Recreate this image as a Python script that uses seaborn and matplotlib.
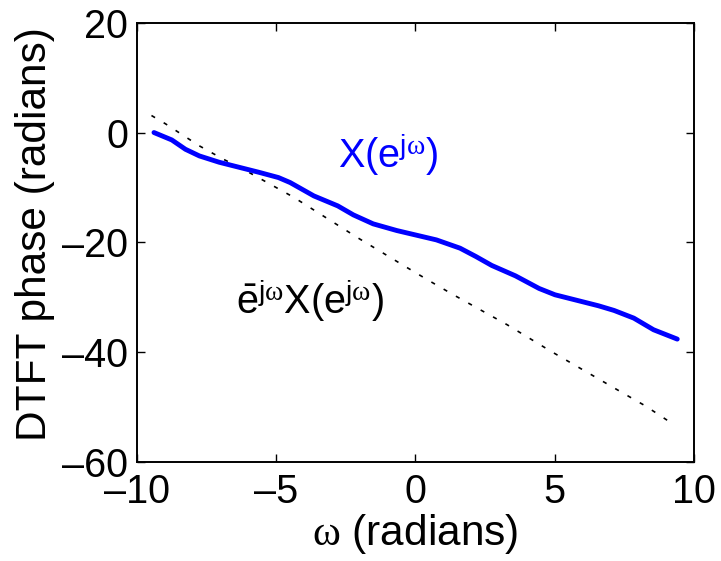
import numpy as np
import pandas as pd
import seaborn as sns
import matplotlib
matplotlib.use("Agg")
import matplotlib.pyplot as plt

# phase of X(e^jw)
w_x = [-9.39, -8.75, -8.26, -7.76, -7.05, -6.34, -5.63, -4.92, -4.50, -3.65,
       -2.79, -2.23, -1.52, -0.67, 0.04, 0.75, 1.60, 2.17, 2.74, 3.59,
       4.44, 5.01, 5.72, 6.57, 7.13, 7.84, 8.55, 9.40]
phase_x = [0.0, -1.35, -3.05, -4.26, -5.41, -6.32, -7.23, -8.20, -9.11, -11.54,
           -13.36, -15.0, -16.63, -17.85, -18.70, -19.55, -21.06, -22.58, -24.21, -26.1,
           -28.4, -29.55, -30.46, -31.55, -32.40, -33.8, -35.92, -37.62]

# phase of e^-jw X(e^jw)
w_shift = [-9.48, -8.98, -7.77, -6.92, -6.07, -5.22, -4.37, -3.59, -2.81, -2.03,
           -1.18, -0.40, 0.46, 1.31, 2.44, 3.29, 4.07, 4.85, 5.70, 6.55,
           7.40, 8.26, 9.04]
phase_shift = [3.1, 1.6, -2.4, -4.8, -7.0, -9.4, -11.8, -14.3, -16.8, -19.3,
               -21.9, -24.3, -26.9, -29.4, -32.6, -35.0, -37.4, -39.8, -42.3, -44.8,
               -47.3, -49.8, -52.4]

xticks = [-10, -5, 0, 5, 10]
yticks = [-60, -40, -20, 0, 20]

sns.set_theme(style="ticks")
plt.rcParams["font.family"] = ["Liberation Sans", "DejaVu Sans"]
plt.rcParams["mathtext.fontset"] = "custom"
plt.rcParams["mathtext.rm"] = "Liberation Sans"
plt.rcParams["mathtext.it"] = "Liberation Serif"
plt.rcParams["mathtext.sf"] = "Liberation Sans"
for k in ["text.color", "axes.labelcolor", "xtick.color", "ytick.color", "axes.edgecolor"]:
    plt.rcParams[k] = "black"

df_x = pd.DataFrame({"w": w_x, "phase": phase_x})
df_s = pd.DataFrame({"w": w_shift, "phase": phase_shift})

fig = plt.figure(figsize=(7.21, 5.61), dpi=100)
ax = fig.add_axes([0.190, 0.1765, 0.7725, 0.783])

sns.lineplot(data=df_s, x="w", y="phase", ax=ax, color="black",
             linewidth=1.2, linestyle=(0, (2.5, 6)), sort=False)
sns.lineplot(data=df_x, x="w", y="phase", ax=ax, color=(0, 0, 1),
             linewidth=3.5, sort=False)

ax.set_xlim(-10, 10)
ax.set_ylim(-60, 20)
ax.set_xticks(xticks)
ax.set_yticks(yticks)
ax.set_xticklabels(["\u2013" + str(-t) if t < 0 else str(t) for t in xticks])
ax.set_yticklabels(["\u2013" + str(-t) if t < 0 else str(t) for t in yticks])
ax.tick_params(direction="in", length=6, width=1, labelsize=28.5,
               top=True, right=True)
ax.tick_params(axis="x", pad=8)
ax.tick_params(axis="y", pad=6.5)
for s in ax.spines.values():
    s.set_linewidth(1.4)

ax.set_xlabel(r"$\omega$ (radians)", fontsize=30.5)
ax.set_ylabel("DTFT phase (radians)", fontsize=30.5)
ax.xaxis.set_label_coords(0.5, -0.114)
ax.yaxis.set_label_coords(-0.147, 0.519)

ax.text(-2.79, -6.5, r"X(e$^{\mathrm{j}\omega}$)", color=(0, 0, 1), fontsize=28.5)
ax.text(-6.45, -33.0, r"$\bar{\mathrm{e}}^{\mathrm{j}\omega}$X(e$^{\mathrm{j}\omega}$)",
        color="black", fontsize=28.5)

fig.savefig("out.png", dpi=100, facecolor="white")
